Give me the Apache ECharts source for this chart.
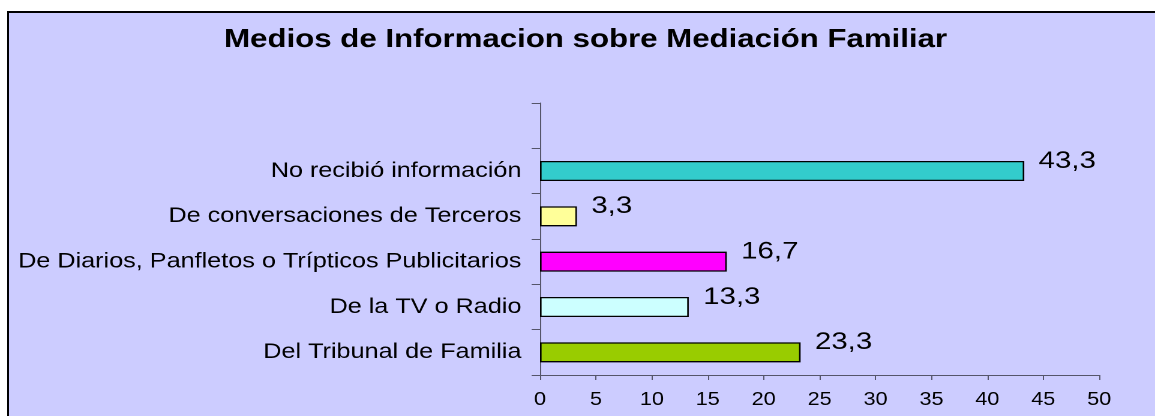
<!DOCTYPE html>
<html>
<head>
<meta charset="utf-8">
<script src="https://cdn.jsdelivr.net/npm/echarts@6/dist/echarts.min.js"></script>
<style>
  html, body { margin: 0; padding: 0; width: 1155px; height: 416px; overflow: hidden; background: #fff; }
  #frame { position: absolute; left: 7px; top: 11px; width: 1180px; height: 440px; box-sizing: border-box;
           background: #CCCCFF; border: 2px solid #000; }
  /* the original picture is stretched horizontally, so draw narrower and widen it */
  #chart { position: absolute; left: 0; top: 0; width: 962px; height: 416px;
           transform: scaleX(1.2); transform-origin: 0 0; }
</style>
</head>
<body>
<div id="frame"></div>
<div id="chart"></div>
<script>
// bottom to top, the last slot is left empty like in the original
const categories = [
  'Del Tribunal de Familia',
  'De la TV o Radio',
  'De Diarios, Panfletos o Trípticos Publicitarios',
  'De conversaciones de Terceros',
  'No recibió información',
  ''
]
const values = [23.3, 13.3, 16.7, 3.3, 43.3, null]
const xMin = 0
const xMax = 50
const xStep = 5

const barColors = ['#99CC00', '#CCFFFF', '#FF00FF', '#FFFF99', '#33CCCC', '#000']
const font = 'Liberation Sans'
const axisColor = '#55556a'

const chart = echarts.init(document.getElementById('chart'), null, { devicePixelRatio: 2 })

chart.setOption({
  animation: false,
  title: {
    text: 'Medios de Informacion sobre Mediación Familiar',
    left: 488,
    top: 27,
    textAlign: 'center',
    padding: 0,
    textStyle: { fontFamily: font, fontWeight: 'bold', fontSize: 26, color: '#000' }
  },
  grid: {
    left: 450,
    right: 46,
    top: 103,
    bottom: 41,
    containLabel: false
  },
  xAxis: {
    type: 'value',
    min: xMin,
    max: xMax,
    interval: xStep,
    splitLine: { show: false },
    axisLine: { show: true, lineStyle: { color: axisColor, width: 1 } },
    axisTick: { show: true, length: 5, lineStyle: { color: axisColor } },
    axisLabel: { fontFamily: font, fontSize: 18, color: '#000', margin: 16 }
  },
  yAxis: {
    type: 'category',
    data: categories,
    axisLine: { show: true, lineStyle: { color: axisColor, width: 1 } },
    axisTick: { show: true, length: 7, lineStyle: { color: axisColor } },
    axisLabel: { fontFamily: font, fontSize: 21, color: '#000', margin: 15.5 }
  },
  series: [{
    type: 'bar',
    data: values,
    barWidth: 20,
    itemStyle: {
      color: p => barColors[p.dataIndex],
      borderColor: '#000',
      borderWidth: 1.3
    },
    label: {
      show: true,
      position: 'right',
      distance: 12,
      offset: [0, -10],
      fontFamily: font,
      fontSize: 24.5,
      color: '#000',
      formatter: p => (p.value == null ? '' : p.value.toFixed(1).replace('.', ','))
    }
  }]
})
</script>
</body>
</html>
